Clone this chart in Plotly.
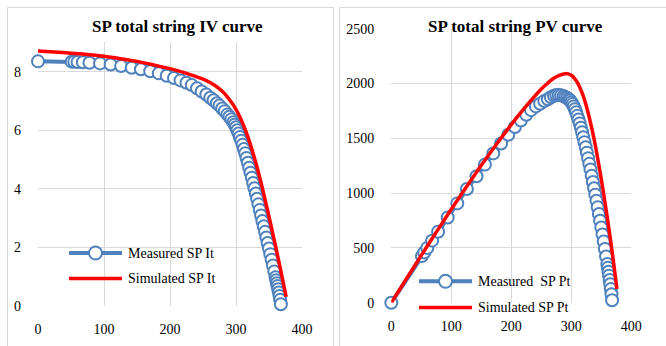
import plotly.graph_objects as go

# ---------------- data ----------------
v_meas = [0, 51, 55, 60, 68, 78, 94, 110, 126, 142, 156, 170, 183, 195, 206, 216, 225, 233, 241, 248,
          255, 261, 266, 271, 275, 279, 283, 287, 290, 293, 296, 298, 300, 302, 304, 306,
          308, 310, 312, 314, 316, 318, 320, 322, 324, 326, 328, 330, 332, 334, 336, 338, 340, 342, 344,
          346, 348, 350, 352, 354, 356, 358, 360, 361, 362, 363, 364, 365, 366, 367, 368]
i_meas = [8.35, 8.34, 8.34, 8.33, 8.32, 8.30, 8.28, 8.24, 8.19, 8.13, 8.08, 8.01, 7.94, 7.86, 7.78, 7.70,
          7.62, 7.54, 7.43, 7.32, 7.22, 7.11, 7.02, 6.92, 6.84, 6.74, 6.65, 6.54, 6.46, 6.37, 6.27, 6.19,
          6.10, 6.00, 5.89, 5.77, 5.64, 5.50, 5.36, 5.21, 5.05, 4.89,
          4.72, 4.55, 4.38, 4.20, 4.02, 3.84, 3.66, 3.47, 3.28, 3.09, 2.90, 2.72, 2.53, 2.34, 2.15, 1.96,
          1.77, 1.58, 1.38, 1.18, 0.98, 0.88, 0.78, 0.68, 0.57, 0.46, 0.34, 0.21, 0.06]
p_meas = [0, 425, 459, 500, 566, 647, 778, 906, 1038, 1154, 1260, 1362, 1453, 1533, 1603, 1663, 1715,
          1757, 1791, 1815, 1841, 1856, 1875, 1888, 1894, 1895, 1892, 1885, 1877, 1868, 1856, 1845,
          1830, 1812, 1791, 1766, 1737, 1705, 1672, 1636, 1596, 1555, 1510, 1465,
          1419, 1369, 1319, 1267, 1215, 1159, 1102, 1044, 986, 930, 870, 810, 748, 686, 623, 559, 491, 422,
          353, 318, 282, 247, 207, 168, 124, 77, 22]

v_sim = [0, 25, 50, 75, 100, 125, 150, 175, 200, 225, 250, 255, 260, 265, 270, 275, 280, 285, 290, 295,
         300, 305, 310, 315, 320, 325, 330, 335, 340, 345, 350, 355, 360, 365, 370, 375, 376]
i_sim = [8.70, 8.67, 8.63, 8.58, 8.52, 8.44, 8.35, 8.23, 8.10, 7.94, 7.74, 7.69, 7.635, 7.57, 7.495, 7.41,
         7.31, 7.19, 7.05, 6.89, 6.71, 6.49, 6.24, 5.96, 5.64, 5.28, 4.89, 4.47, 4.02, 3.54, 3.05, 2.55,
         2.04, 1.51, 0.97, 0.42, 0.31]
v_sim_p = [0, 25, 50, 75, 100, 125, 150, 175, 200, 225, 250, 260, 270, 280, 290, 295, 300, 305, 310,
           315, 320, 325, 330, 335, 340, 345, 350, 355, 360, 365, 370, 375, 376]
p_sim = [0, 216, 432, 644, 852, 1055, 1253, 1443, 1625, 1795, 1950, 2000, 2045, 2075, 2090, 2088, 2075,
         2050, 2010, 1955, 1885, 1795, 1690, 1570, 1435, 1285, 1125, 955, 775, 585, 385, 170, 125]

x_ticks = [0, 100, 200, 300, 400]
iv_y_ticks = [0, 2, 4, 6, 8]
pv_y_ticks = [0, 500, 1000, 1500, 2000, 2500]

assert len(v_meas) == len(i_meas) == len(p_meas)
assert len(v_sim) == len(i_sim) and len(v_sim_p) == len(p_sim)

# ---------------- style ----------------
W, H = 666, 346
BLUE = "#4F81BD"
RED = "#FF0000"
GRID = "#D9D9D9"
FONT = "Times New Roman, Liberation Serif, DejaVu Serif, serif"


def fx(p):
    return p / W


def fy(p):
    return 1 - p / H


fig = go.Figure()

meas_style = dict(mode="lines+markers", line=dict(color=BLUE, width=4),
                  marker=dict(symbol="circle", size=12, color="white",
                              line=dict(color=BLUE, width=2)),
                  cliponaxis=False, showlegend=False)
sim_style = dict(mode="lines", line=dict(color=RED, width=3.5, shape="spline", smoothing=0.8),
                 cliponaxis=False, showlegend=False)

fig.add_trace(go.Scatter(x=v_meas, y=i_meas, xaxis="x", yaxis="y", name="Measured SP It", **meas_style))
fig.add_trace(go.Scatter(x=v_sim, y=i_sim, xaxis="x", yaxis="y", name="Simulated SP It", **sim_style))
fig.add_trace(go.Scatter(x=v_meas, y=p_meas, xaxis="x2", yaxis="y2", name="Measured  SP Pt", **meas_style))
fig.add_trace(go.Scatter(x=v_sim_p, y=p_sim, xaxis="x2", yaxis="y2", name="Simulated SP Pt", **sim_style))

tickfont = dict(family=FONT, size=14, color="#000000")
common_x = dict(range=[0, 400], tickvals=x_ticks, showgrid=True, gridcolor=GRID, gridwidth=1,
                zeroline=False, showline=False, ticks="", tickfont=tickfont, automargin=False,
                ticklabelstandoff=13, fixedrange=True)
common_y = dict(showgrid=True, gridcolor=GRID, gridwidth=1, zeroline=False, showline=False, ticks="",
                tickfont=tickfont, automargin=False, ticklabelstandoff=16, fixedrange=True)

fig.update_layout(
    width=W, height=H, margin=dict(l=0, r=0, t=0, b=0),
    paper_bgcolor="white", plot_bgcolor="white", template="none",
    xaxis=dict(domain=[fx(38), fx(302)], anchor="y", **common_x),
    yaxis=dict(domain=[fy(306), fy(42.3)], anchor="x", range=[0, 9], tickvals=iv_y_ticks, **common_y),
    xaxis2=dict(domain=[fx(391.3), fx(631.3)], anchor="y2", **common_x),
    yaxis2=dict(domain=[fy(302.7), fy(28.7)], anchor="x2", range=[0, 2500], tickvals=pv_y_ticks, **common_y),
)

shapes = []
# chart borders
shapes.append(dict(type="rect", xref="paper", yref="paper", x0=fx(7.5), x1=fx(333.5), y0=fy(350), y1=fy(7.5),
                   line=dict(color=GRID, width=1), fillcolor="rgba(0,0,0,0)", layer="below"))
shapes.append(dict(type="rect", xref="paper", yref="paper", x0=fx(339.5), x1=fx(670), y0=fy(350), y1=fy(7.5),
                   line=dict(color=GRID, width=1), fillcolor="rgba(0,0,0,0)", layer="below"))

annotations = []
title_font = dict(family=FONT, size=17, color="#000000")
annotations.append(dict(text="<b>SP total string IV curve</b>", xref="paper", yref="paper", x=fx(177.5),
                        y=fy(26.7), xanchor="center", yanchor="middle", showarrow=False, font=title_font))
annotations.append(dict(text="<b>SP total string PV curve</b>", xref="paper", yref="paper", x=fx(515.5),
                        y=fy(26.7), xanchor="center", yanchor="middle", showarrow=False, font=title_font))

legend_font = dict(family=FONT, size=14, color="#000000")


def legend_item(x0, x1, y, color, label, marker, text_x):
    shapes.append(dict(type="line", xref="paper", yref="paper", x0=fx(x0), x1=fx(x1), y0=fy(y), y1=fy(y),
                       line=dict(color=color, width=4 if marker else 3.5)))
    if marker:
        xc = (x0 + x1) / 2
        shapes.append(dict(type="circle", xref="paper", yref="paper", xsizemode="pixel", ysizemode="pixel",
                           xanchor=fx(xc), yanchor=fy(y), x0=-6.5, x1=6.5, y0=-6.5, y1=6.5,
                           fillcolor="white", line=dict(color=color, width=2)))
    annotations.append(dict(text=label, xref="paper", yref="paper", x=fx(text_x), y=fy(y),
                            xanchor="left", yanchor="middle", showarrow=False, font=legend_font))


legend_item(69, 122, 253, BLUE, "Measured SP It", True, 126)
legend_item(69, 122, 278.5, RED, "Simulated SP It", False, 126)
legend_item(419, 472, 281.3, BLUE, "Measured  SP Pt", True, 476)
legend_item(419, 472, 307.5, RED, "Simulated SP Pt", False, 476)

fig.update_layout(shapes=shapes, annotations=annotations)

fig.write_html("out.html")
